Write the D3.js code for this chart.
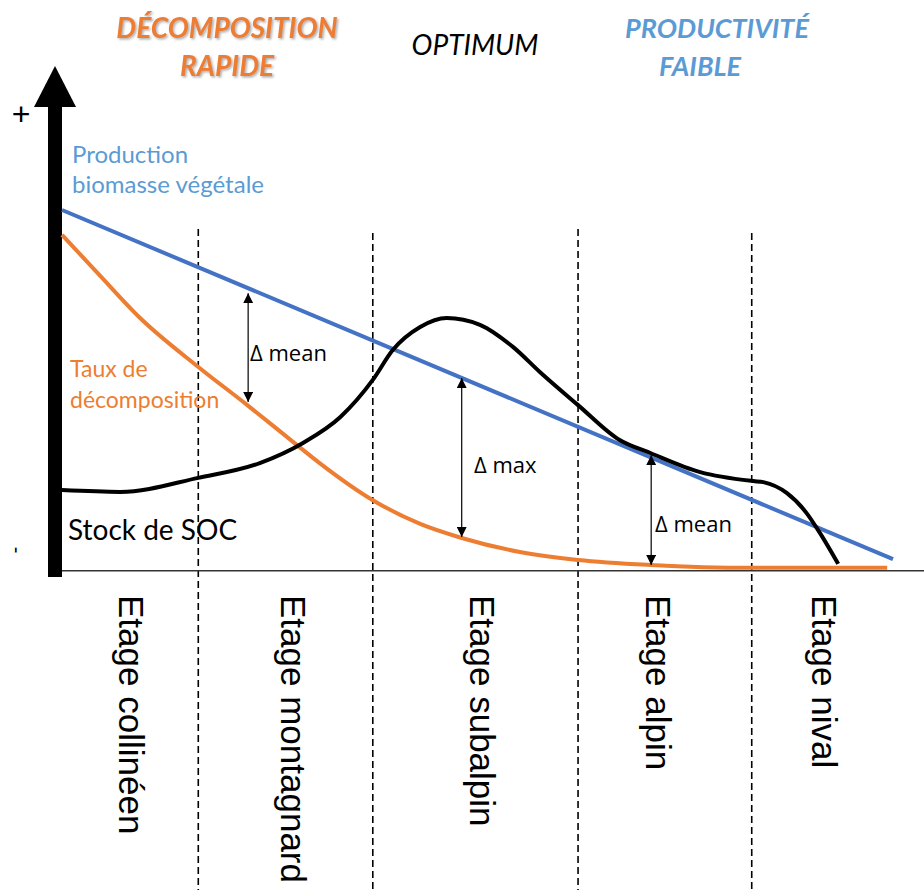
<!DOCTYPE html>
<html>
<head>
<meta charset="utf-8">
<script src="https://cdn.jsdelivr.net/npm/d3@7"></script>
<style>
html, body { margin: 0; padding: 0; background: #fff; }
svg { display: block; }
</style>
</head>
<body>
<div id="chart"></div>
<script>
// étages along the altitude gradient (x in % of the gradient)
var etages = ["Etage collinéen", "Etage montagnard", "Etage subalpin", "Etage alpin", "Etage nival"];
var limites = [0, 16.4, 37.4, 62.1, 83, 100];

// curves (x in %, y in arbitrary units 0-100)
var biomasse = [[0, 100], [100, 3]];
var decomposition = [[0, 93.1], [4.6, 81.7], [9.4, 70], [16.4, 56.4], [22.3, 45.8], [27.8, 35.6],
    [31, 29.7], [37.4, 19.4], [43.1, 12.8], [48.1, 8.9], [55.1, 5], [62.1, 2.8], [70.8, 1.4],
    [83, 0.6], [99.3, 0.6]];
var stockSOC = [[0, 22.2], [7, 21.7], [16.4, 25.6], [23.8, 29.7], [29, 35.3], [33.5, 42.5], [37.4, 52.8],
    [39.8, 61.1], [43.1, 67.5], [46.3, 70], [50.3, 68.1], [54.3, 61.9], [57.5, 55], [62.1, 45.8],
    [67.1, 36.1], [70.8, 32.5], [76.8, 27.2], [83.2, 24.7], [84.4, 24.4], [87.2, 21.4], [89.6, 15.8],
    [91.2, 10.3], [93.4, 1.7]];

// double arrows: x, top, bottom
var deltaX = [22.4, 48.1, 70.9];
var deltaTop = [76.9, 53.3, 31.9];
var deltaBottom = [46.7, 9.2, 1.4];
var deltaLabels = ["Δ mean", "Δ max", "Δ mean"];

var width = 924, height = 890;

var svg = d3.select("#chart")
    .append("svg")
    .attr("width", width)
    .attr("height", height);

var x = d3.scaleLinear().domain([0, 100]).range([62, 893]);
var y = d3.scaleLinear().domain([0, 100]).range([570, 210]);

var defs = svg.append("defs");

defs.append("marker")
    .attr("id", "tete")
    .attr("viewBox", "0 0 10 10")
    .attr("refX", 10)
    .attr("refY", 5)
    .attr("markerWidth", 10)
    .attr("markerHeight", 10)
    .attr("markerUnits", "userSpaceOnUse")
    .attr("orient", "auto-start-reverse")
    .append("path")
    .attr("d", "M0,0 L10,5 L0,10 z")
    .attr("fill", "#000");

var ombre = defs.append("filter")
    .attr("id", "ombre")
    .attr("x", "-10%").attr("y", "-20%")
    .attr("width", "130%").attr("height", "160%");
ombre.append("feDropShadow")
    .attr("dx", 1.5).attr("dy", 1.5)
    .attr("stdDeviation", 1.2)
    .attr("flood-color", "#777")
    .attr("flood-opacity", 0.6);

// dashed limits between étages
svg.selectAll("line.limite")
    .data(limites.slice(1, -1))
    .enter()
    .append("line")
    .attr("class", "limite")
    .attr("x1", function (d) { return x(d); })
    .attr("x2", function (d) { return x(d); })
    .attr("y1", function (d, i) { return i % 2 ? 233 : 229; })
    .attr("y2", height)
    .attr("stroke", "#000")
    .attr("stroke-width", 1.6)
    .attr("stroke-dasharray", "7,4");

// x axis line
svg.append("line")
    .attr("x1", 48).attr("x2", width)
    .attr("y1", y(0) + 0.7).attr("y2", y(0) + 0.7)
    .attr("stroke", "#333")
    .attr("stroke-width", 1.6);

// thick y axis arrow
svg.append("rect")
    .attr("x", 48).attr("y", 105)
    .attr("width", 14).attr("height", 472)
    .attr("fill", "#000");
svg.append("path")
    .attr("d", "M55,66 L76,107 L34,107 Z")
    .attr("fill", "#000");

svg.append("text")
    .attr("x", 21).attr("y", 125)
    .attr("text-anchor", "middle")
    .style("font-family", "Liberation Sans")
    .style("font-size", "32px")
    .text("+");
svg.append("text")
    .attr("transform", "translate(10,550) rotate(90)")
    .attr("text-anchor", "middle")
    .style("font-family", "Liberation Sans")
    .style("font-size", "20px")
    .text("-");

// curves
var line = d3.line()
    .x(function (d) { return x(d[0]); })
    .y(function (d) { return y(d[1]); });

svg.append("path")
    .datum(decomposition)
    .attr("d", line.curve(d3.curveMonotoneX))
    .attr("fill", "none")
    .attr("stroke", "#ED7D31")
    .attr("stroke-width", 4);

svg.append("path")
    .datum(biomasse)
    .attr("d", line.curve(d3.curveLinear))
    .attr("fill", "none")
    .attr("stroke", "#4472C4")
    .attr("stroke-width", 4);

svg.append("path")
    .datum(stockSOC)
    .attr("d", line.curve(d3.curveMonotoneX))
    .attr("fill", "none")
    .attr("stroke", "#000")
    .attr("stroke-width", 4)
    .attr("stroke-linejoin", "round");

// delta arrows
svg.selectAll("line.delta")
    .data(deltaX)
    .enter()
    .append("line")
    .attr("class", "delta")
    .attr("x1", function (d) { return x(d); })
    .attr("x2", function (d) { return x(d); })
    .attr("y1", function (d, i) { return y(deltaTop[i]); })
    .attr("y2", function (d, i) { return y(deltaBottom[i]); })
    .attr("stroke", "#000")
    .attr("stroke-width", 1.2)
    .attr("marker-start", "url(#tete)")
    .attr("marker-end", "url(#tete)");

var deltaPos = [[250, 361], [474, 473], [655, 532]];
svg.selectAll("text.delta")
    .data(deltaLabels)
    .enter()
    .append("text")
    .attr("class", "delta")
    .attr("x", function (d, i) { return deltaPos[i][0]; })
    .attr("y", function (d, i) { return deltaPos[i][1]; })
    .style("font-family", "Open Sans")
    .style("font-size", "22px")
    .style("fill", "#000")
    .text(function (d) { return d; });

// étage labels, rotated
var decalage = [-11, -5, -5, -19, -10];
svg.selectAll("text.etage")
    .data(etages)
    .enter()
    .append("text")
    .attr("class", "etage")
    .attr("transform", function (d, i) {
        var c = x((limites[i] + limites[i + 1]) / 2) + decalage[i];
        return "translate(" + c + ",595) rotate(90)";
    })
    .style("font-family", "Liberation Sans")
    .style("font-size", "35px")
    .style("fill", "#000")
    .text(function (d) { return d; });

// curve labels
function label(lignes, px, py, pas, taille, couleur) {
    var t = svg.append("text")
        .style("font-family", "Lato")
        .style("font-size", taille + "px")
        .style("fill", couleur);
    lignes.forEach(function (l, i) {
        t.append("tspan").attr("x", px).attr("y", py + i * pas).text(l);
    });
}
label(["Production", "biomasse végétale"], 72, 163, 30, 24, "#5B9BD5");
label(["Taux de", "décomposition"], 70, 377, 31, 23, "#ED7D31");
label(["Stock de SOC"], 68, 540, 0, 28, "#000");

// headings
function titre(lignes, px, py, taille, couleur, gras, filtre) {
    var t = svg.append("text")
        .attr("text-anchor", "middle")
        .style("font-family", "Lato")
        .style("font-size", taille + "px")
        .style("font-style", "italic")
        .style("font-weight", gras ? "bold" : "normal")
        .style("fill", couleur);
    if (filtre) t.attr("filter", "url(#ombre)");
    lignes.forEach(function (l, i) {
        t.append("tspan").attr("x", px[i]).attr("y", py + i * 38).text(l);
    });
}
titre(["DÉCOMPOSITION", "RAPIDE"], [227, 227], 38, 28, "#ED7D31", true, true);
titre(["OPTIMUM"], [475], 55, 28, "#000", false, false);
titre(["PRODUCTIVITÉ", "FAIBLE"], [717, 700], 38, 27, "#5B9BD5", true, false);
</script>
</body>
</html>
